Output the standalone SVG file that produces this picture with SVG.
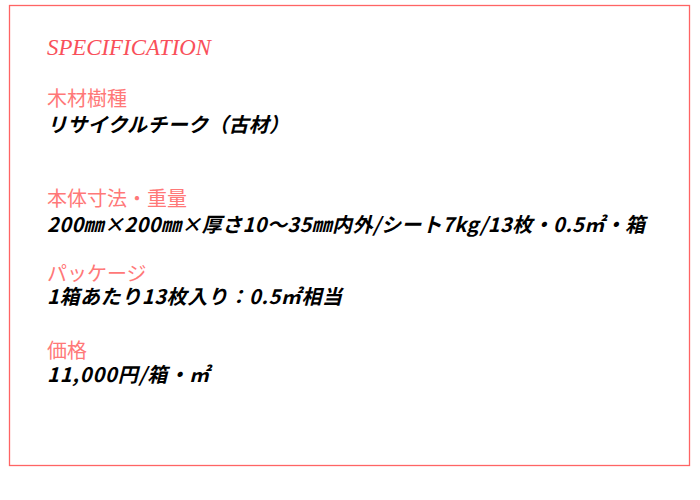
<svg xmlns="http://www.w3.org/2000/svg" width="700" height="500" viewBox="0 0 700 500">
<style>
.frame{fill:none;stroke:#ff6464;stroke-width:1.3}
.title{font-family:"Liberation Serif","Noto Serif",serif;font-style:italic;font-size:24px;fill:#f9505a}
.head{font-family:"Noto Sans CJK JP","Noto Sans",sans-serif;font-size:20px;font-weight:normal;fill:#ff7878}
.body{font-family:"Noto Sans CJK JP","Noto Sans",sans-serif;font-size:20px;font-weight:bold;font-style:italic;fill:#000000}
</style>
<rect width="700" height="500" fill="#ffffff"/>
<rect id="frame" class="frame" x="9.5" y="5.5" width="680" height="460"/>
<g id="title">
<text class="title" x="47" y="55" textLength="164" lengthAdjust="spacingAndGlyphs">SPECIFICATION</text>
</g>
<g id="species">
<text class="head" x="47" y="106">木材樹種</text>
<text class="body" x="47" y="132" textLength="242" lengthAdjust="spacing">リサイクルチーク（古材）</text>
</g>
<g id="size">
<text class="head" x="47" y="206">本体寸法・重量</text>
<text class="body" x="47" y="232" textLength="598" lengthAdjust="spacing">200㎜×200㎜×厚さ10〜35㎜内外/シート7kg/13枚・0.5㎡・箱</text>
</g>
<g id="package">
<text class="head" x="47" y="281">パッケージ</text>
<text class="body" x="47" y="304" textLength="295" lengthAdjust="spacing">1箱あたり13枚入り：0.5㎡相当</text>
</g>
<g id="price">
<text class="head" x="47" y="358">価格</text>
<text class="body" x="47" y="382" textLength="162" lengthAdjust="spacing">11,000円/箱・㎡</text>
</g>
</svg>
